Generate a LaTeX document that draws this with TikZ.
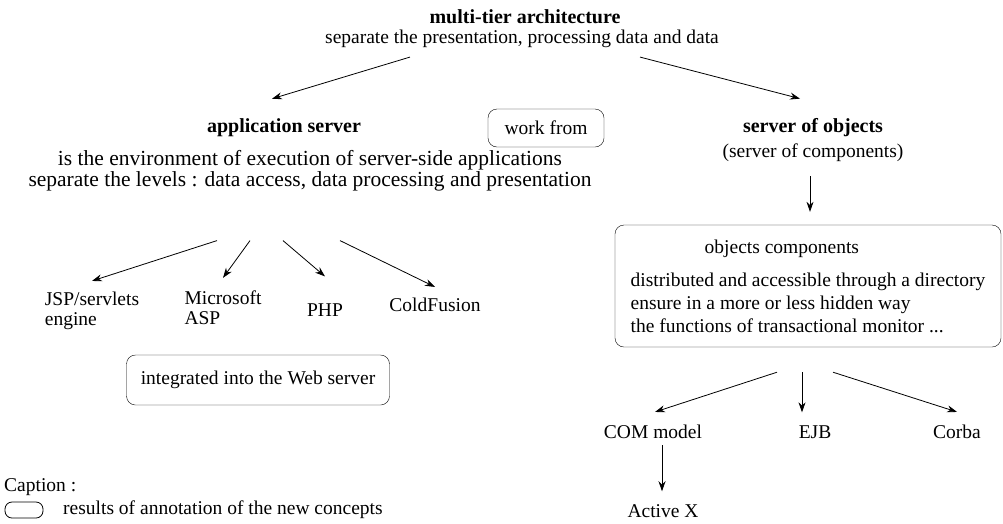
\documentclass[tikz,border=0pt]{standalone}
\usepackage{fontspec}
\setmainfont{Liberation Serif}
\usetikzlibrary{positioning,arrows.meta}

\tikzset{
  txt/.style={inner sep=1pt, font=\fontsize{19.5}{20}\selectfont},
  heavy/.style={inner sep=1pt, font=\fontsize{20}{21}\selectfont\bfseries},
  note/.style={txt, draw, rounded corners=9pt, inner xsep=14pt, minimum height=38pt},
  arr/.style={-{Stealth[length=10pt,width=7pt]}, line width=0.8pt},
}

\begin{document}
\begin{tikzpicture}[x=1pt,y=-1pt]
\useasboundingbox (0,0) rectangle (1003,523);

% top level
\node[heavy] (arch) at (525,17) {multi-tier architecture};
\node[txt] (archsub) at (522,39) {separate the presentation, processing data and data};

\node[heavy] (appsrv) at (284,128) {application server};
\node[note, minimum width=116pt] (work) at (546,128) {work from};
\node[heavy] (objsrv) at (813,128) {server of objects};
\node[txt] (compsrv) at (813,153) {(server of components)};

\draw[arr] ([xshift=-112pt,yshift=-8pt]archsub.south) -- ([xshift=-12pt,yshift=19pt]appsrv.north);
\draw[arr] ([xshift=118pt,yshift=-8pt]archsub.south) -- ([xshift=-13pt,yshift=19pt]objsrv.north);

% application server side
\node[txt, align=center, font=\fontsize{21.5}{21}\selectfont] (env) at (310,171)
  {is the environment of execution of server-side applications\\
   separate the levels : data access, data processing and presentation};

\node[txt, align=left] (jsp) at (92,311) {JSP/servlets\\engine};
\node[txt, align=left] (asp) at (223,308) {Microsoft\\ASP};
\node[txt] (php) at (325,310) {PHP};
\node[txt] (cold) at (435,305) {ColdFusion};

\foreach \dx/\dst/\gap in {-93/jsp/10, -60/asp/12, -27/php/26, 30/cold/10}
  \draw[arr] ([xshift=\dx pt,yshift=-48pt]env.south) -- ([yshift=\gap pt]\dst.north);

\node[note, minimum width=263pt, minimum height=50pt] (web) at (258,380) {integrated into the Web server};

% server of objects side
\node[note, align=left, minimum width=386pt, minimum height=122pt, inner xsep=8pt,
      font=\fontsize{19.5}{23}\selectfont] (objbox) at (808,286)
  {\hspace*{74pt}objects components\\[10pt]
   distributed and accessible through a directory\\
   ensure in a more or less hidden way\\
   the functions of transactional monitor ...};

\draw[arr] ([xshift=-3pt,yshift=-13pt]compsrv.south) -- ([xshift=2pt,yshift=13pt]objbox.north);

\node[txt] (com) at (653,432) {COM model};
\node[txt] (ejb) at (815,432) {EJB};
\node[txt] (corba) at (957,432) {Corba};
\node[txt] (activex) at (663,511) {Active X};

\foreach \dx/\dst/\ddx in {-31/com/2, -6/ejb/-13, 25/corba/0}
  \draw[arr] ([xshift=\dx pt,yshift=-25pt]objbox.south) -- ([xshift=\ddx pt,yshift=12pt]\dst.north);
\draw[arr] ([xshift=9pt,yshift=-5pt]com.south) -- ([xshift=-1pt,yshift=12pt]activex.north);

% caption
\node[txt, anchor=west] (caption) at (3,487) {Caption :};
\node[draw, rounded corners=7pt, minimum width=38pt, minimum height=16pt, line width=0.8pt] (legend) at (24,510) {};
\node[txt, anchor=west] (legendtxt) at (62,510) {results of annotation of the new concepts};

\end{tikzpicture}
\end{document}
